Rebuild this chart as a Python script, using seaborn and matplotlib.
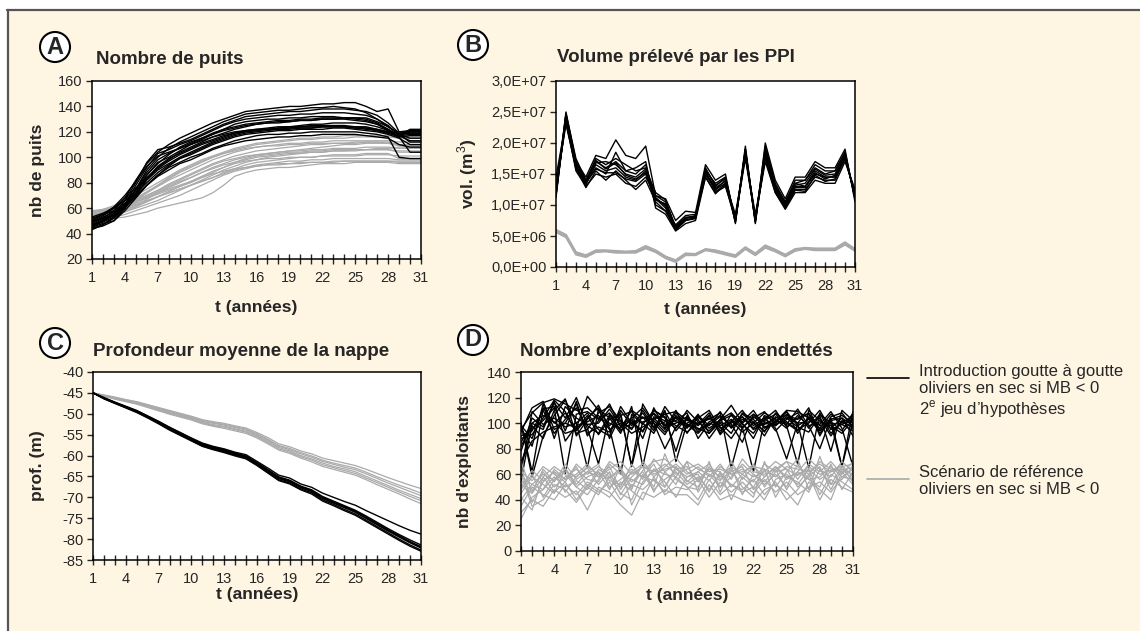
"""Four-panel comparison of simulation runs: reference scenario vs drip irrigation."""

import matplotlib

matplotlib.use("Agg")
import matplotlib.pyplot as plt
import matplotlib.patches as mpatches
from matplotlib.lines import Line2D
from matplotlib.ticker import FuncFormatter
import pandas as pd
import seaborn as sns


W, H = 1140, 631
YEARS = list(range(1, 32))

# ---- panel A : nombre de puits -------------------------------------------
PUITS_GOUTTE = [
    [48, 52, 58, 68, 82, 95, 104, 110, 115, 119, 123, 127, 130, 133, 136, 137, 138, 139, 140, 140, 141, 142, 142, 143, 143, 140, 136, 138, 120, 121, 121],
    [45, 48, 50, 60, 75, 90, 100, 107, 112, 116, 120, 124, 128, 131, 134, 135, 136, 137, 137, 138, 139, 139, 140, 139, 138, 135, 130, 125, 117, 118, 118],
    [47, 50, 55, 63, 78, 92, 103, 106, 110, 113, 117, 121, 125, 128, 130, 131, 132, 133, 133, 134, 134, 135, 135, 135, 134, 133, 130, 124, 118, 119, 119],
    [43, 47, 52, 60, 72, 86, 96, 100, 105, 110, 114, 118, 122, 126, 128, 129, 130, 130, 131, 131, 132, 132, 132, 131, 131, 130, 127, 122, 117, 122, 122],
    [50, 54, 60, 68, 76, 84, 92, 98, 104, 108, 112, 116, 119, 122, 124, 126, 127, 128, 128, 129, 129, 130, 130, 130, 129, 128, 126, 121, 116, 117, 117],
    [46, 49, 53, 60, 70, 82, 90, 95, 100, 104, 108, 112, 115, 118, 120, 121, 122, 123, 124, 124, 125, 125, 125, 125, 124, 124, 122, 120, 118, 112, 112],
    [52, 55, 58, 64, 72, 80, 88, 94, 99, 102, 106, 110, 113, 116, 118, 119, 120, 121, 121, 122, 122, 122, 123, 123, 122, 121, 120, 118, 115, 110, 110],
    [44, 46, 50, 58, 68, 78, 86, 92, 96, 100, 103, 107, 110, 113, 115, 117, 118, 118, 119, 119, 120, 120, 120, 120, 120, 119, 118, 116, 100, 99, 99],
    [49, 53, 57, 62, 70, 78, 85, 90, 95, 98, 102, 106, 109, 111, 113, 114, 115, 116, 116, 117, 117, 118, 118, 118, 118, 117, 116, 115, 110, 108, 108],
    [47, 51, 56, 63, 74, 86, 95, 102, 108, 112, 115, 118, 121, 123, 125, 126, 127, 127, 128, 129, 129, 130, 130, 131, 131, 131, 128, 124, 119, 120, 120],
    [51, 55, 61, 70, 81, 93, 101, 104, 107, 110, 113, 116, 118, 120, 121, 122, 122, 123, 123, 124, 124, 124, 124, 124, 123, 123, 122, 120, 118, 115, 115],
    [45, 50, 54, 61, 71, 83, 93, 99, 103, 107, 111, 114, 117, 119, 121, 122, 123, 124, 124, 125, 126, 126, 127, 127, 127, 126, 124, 121, 118, 121, 121],
    [46, 50, 56, 66, 80, 96, 106, 108, 111, 114, 118, 122, 126, 129, 132, 133, 134, 135, 136, 136, 137, 138, 138, 138, 137, 136, 133, 127, 119, 119, 119],
    [50, 52, 55, 61, 69, 78, 86, 93, 99, 103, 107, 111, 114, 117, 119, 120, 121, 122, 122, 123, 123, 124, 124, 124, 124, 123, 121, 119, 116, 104, 104],
    [44, 47, 53, 62, 75, 88, 98, 103, 107, 111, 115, 119, 122, 124, 126, 127, 128, 129, 129, 130, 130, 131, 131, 131, 130, 129, 126, 122, 117, 120, 120],
    [53, 56, 60, 66, 74, 83, 91, 97, 102, 106, 110, 113, 116, 119, 120, 121, 122, 122, 123, 123, 123, 124, 124, 124, 123, 122, 121, 119, 117, 113, 113],
]
PUITS_REF = [
    [52, 54, 55, 57, 60, 63, 66, 70, 74, 78, 82, 86, 90, 93, 96, 98, 100, 101, 102, 103, 104, 104, 105, 105, 105, 106, 106, 106, 105, 105, 105],
    [56, 58, 60, 63, 67, 72, 77, 82, 86, 90, 94, 98, 101, 104, 106, 108, 109, 110, 111, 111, 112, 112, 113, 113, 113, 113, 113, 113, 112, 112, 112],
    [54, 55, 57, 59, 62, 65, 69, 73, 77, 81, 85, 89, 92, 95, 97, 98, 99, 99, 100, 100, 100, 101, 101, 101, 101, 102, 102, 102, 101, 101, 101],
    [50, 52, 53, 55, 58, 61, 64, 67, 70, 74, 78, 82, 86, 89, 91, 93, 94, 95, 95, 96, 96, 96, 97, 97, 97, 97, 97, 97, 96, 96, 96],
    [58, 59, 61, 64, 68, 73, 78, 83, 88, 92, 96, 100, 103, 106, 108, 110, 111, 112, 113, 114, 114, 115, 115, 115, 116, 116, 116, 116, 115, 115, 115],
    [53, 56, 58, 61, 65, 69, 73, 77, 81, 84, 88, 91, 94, 96, 98, 100, 101, 102, 103, 103, 104, 104, 105, 105, 106, 106, 107, 107, 108, 108, 108],
    [55, 57, 59, 62, 66, 70, 74, 79, 83, 87, 91, 95, 98, 101, 103, 105, 106, 107, 108, 109, 110, 110, 111, 111, 111, 112, 112, 112, 110, 110, 110],
    [52, 53, 55, 58, 62, 67, 72, 75, 78, 81, 84, 87, 89, 91, 92, 93, 94, 94, 95, 95, 96, 96, 96, 97, 97, 97, 97, 97, 97, 97, 97],
    [57, 58, 60, 62, 65, 68, 71, 74, 77, 80, 84, 88, 92, 96, 99, 101, 102, 103, 104, 104, 105, 105, 106, 106, 106, 106, 106, 106, 104, 104, 104],
    [51, 54, 57, 61, 66, 72, 78, 84, 89, 93, 97, 100, 103, 105, 107, 108, 109, 109, 110, 110, 111, 111, 111, 111, 112, 112, 112, 111, 110, 110, 110],
    [48, 50, 52, 53, 55, 57, 60, 62, 64, 66, 68, 72, 78, 85, 88, 90, 91, 92, 92, 93, 94, 95, 95, 95, 96, 96, 96, 96, 95, 95, 95],
    [55, 56, 58, 60, 63, 66, 69, 72, 75, 78, 81, 84, 88, 91, 94, 96, 97, 98, 99, 100, 100, 101, 102, 102, 102, 103, 103, 103, 99, 99, 99],
    [53, 55, 57, 60, 64, 68, 72, 76, 80, 84, 88, 92, 95, 98, 100, 102, 103, 104, 105, 105, 106, 106, 107, 107, 107, 108, 108, 108, 107, 107, 107],
    [57, 59, 62, 66, 70, 75, 80, 85, 90, 94, 98, 101, 104, 107, 109, 111, 112, 113, 114, 115, 115, 116, 116, 117, 117, 117, 117, 117, 116, 116, 116],
    [49, 52, 54, 57, 61, 65, 69, 72, 75, 78, 81, 84, 87, 90, 92, 94, 95, 96, 97, 97, 98, 98, 99, 99, 99, 99, 99, 99, 98, 98, 98],
    [54, 57, 60, 63, 66, 70, 74, 78, 82, 86, 90, 94, 97, 99, 101, 102, 103, 104, 105, 106, 107, 108, 109, 110, 110, 111, 111, 111, 109, 109, 109],
]

# ---- panel B : volume preleve par les PPI (millions de m3) ----------------
VOL_GOUTTE = [
    [11.5, 24.8, 17.5, 14.0, 17.0, 16.0, 17.0, 15.5, 15.0, 16.5, 11.0, 9.5, 6.0, 7.5, 8.0, 15.5, 13.5, 14.5, 7.5, 19.0, 7.5, 19.5, 13.5, 10.5, 13.5, 14.0, 16.0, 15.0, 15.5, 18.5, 11.0],
    [12.0, 24.0, 16.5, 13.5, 16.5, 15.5, 16.0, 14.5, 14.0, 15.5, 10.0, 9.0, 6.0, 7.5, 7.8, 15.0, 12.5, 14.0, 7.2, 18.5, 7.2, 18.0, 12.5, 10.0, 13.0, 13.0, 15.5, 14.5, 14.5, 18.0, 11.5],
    [12.5, 23.5, 15.5, 13.0, 15.0, 14.5, 15.0, 13.5, 13.0, 14.5, 11.5, 10.5, 6.5, 8.0, 8.2, 14.5, 12.0, 13.0, 8.0, 18.0, 8.0, 17.0, 12.0, 9.5, 12.5, 12.5, 14.5, 14.0, 14.0, 17.5, 12.0],
    [11.2, 25.0, 17.0, 14.5, 18.0, 17.5, 20.5, 18.0, 17.5, 19.5, 11.5, 11.0, 7.5, 9.0, 8.8, 16.5, 14.0, 15.0, 7.0, 19.5, 7.0, 20.0, 14.0, 11.0, 14.5, 14.5, 17.0, 16.0, 16.0, 19.0, 10.5],
    [13.0, 23.0, 16.0, 13.5, 16.0, 15.0, 18.5, 15.5, 16.0, 17.0, 9.5, 8.5, 5.8, 7.0, 7.5, 14.5, 11.8, 13.5, 7.8, 17.5, 7.8, 17.5, 12.0, 9.3, 12.0, 12.0, 14.0, 13.5, 13.5, 17.0, 12.5],
    [11.8, 24.5, 17.0, 14.0, 17.5, 16.5, 17.5, 16.5, 15.5, 16.0, 11.0, 10.0, 6.3, 8.0, 8.0, 16.0, 13.0, 14.5, 7.3, 19.0, 7.4, 19.0, 13.0, 10.5, 14.0, 14.0, 16.5, 15.5, 15.5, 18.5, 11.0],
    [14.5, 23.5, 16.0, 12.8, 15.5, 14.0, 15.5, 14.0, 12.5, 14.0, 10.5, 9.0, 6.8, 8.3, 8.5, 15.0, 12.5, 13.5, 8.5, 18.0, 8.5, 17.5, 12.5, 10.0, 13.5, 13.0, 15.0, 14.5, 14.5, 17.5, 11.8],
    [12.2, 24.2, 16.8, 13.8, 16.8, 17.0, 16.5, 15.0, 14.5, 15.8, 12.0, 10.8, 6.2, 7.8, 8.3, 15.8, 13.2, 14.2, 7.6, 18.8, 7.6, 18.5, 13.2, 10.2, 13.2, 13.5, 15.8, 14.8, 15.0, 18.2, 11.2],
    [11.6, 24.0, 16.2, 13.2, 17.2, 15.8, 16.8, 14.8, 14.2, 15.2, 10.8, 10.2, 6.6, 7.9, 8.1, 15.2, 12.8, 13.8, 7.9, 18.2, 7.7, 18.2, 12.8, 9.8, 12.8, 12.8, 15.2, 14.2, 14.8, 17.8, 11.4],
    [12.8, 24.6, 15.8, 13.6, 15.8, 15.2, 15.2, 14.2, 13.8, 15.0, 11.2, 9.8, 6.1, 7.6, 7.9, 15.4, 12.2, 13.2, 7.4, 18.4, 7.3, 18.8, 12.2, 9.6, 12.4, 12.2, 14.8, 13.8, 14.2, 17.6, 11.6],
]
VOL_REF = [
    [5.8, 5.0, 2.2, 1.7, 2.5, 2.6, 2.4, 2.4, 2.4, 3.2, 2.5, 1.5, 0.9, 2.0, 2.0, 2.8, 2.5, 2.1, 1.7, 3.0, 2.0, 3.3, 2.6, 1.8, 2.7, 3.0, 2.8, 2.8, 2.8, 3.8, 2.7],
    [6.0, 5.2, 2.4, 1.9, 2.7, 2.7, 2.6, 2.5, 2.6, 3.4, 2.7, 1.7, 1.1, 2.2, 2.1, 2.9, 2.7, 2.3, 1.9, 3.2, 2.2, 3.5, 2.8, 2.0, 2.9, 3.1, 3.0, 3.0, 3.0, 4.0, 2.9],
    [5.6, 4.8, 2.0, 1.6, 2.4, 2.5, 2.3, 2.3, 2.3, 3.0, 2.4, 1.4, 0.8, 1.9, 1.9, 2.7, 2.4, 2.0, 1.6, 2.9, 1.9, 3.1, 2.5, 1.7, 2.6, 2.9, 2.7, 2.7, 2.7, 3.6, 2.6],
    [5.9, 5.1, 2.3, 1.8, 2.6, 2.6, 2.5, 2.4, 2.5, 3.3, 2.6, 1.6, 1.0, 2.1, 2.1, 2.8, 2.6, 2.2, 1.8, 3.1, 2.1, 3.4, 2.7, 1.9, 2.8, 3.0, 2.9, 2.9, 2.9, 3.9, 2.8],
]

# ---- panel C : profondeur moyenne de la nappe (m) ------------------------
PROF_GOUTTE = [
    [-45.0, -46.2, -47.3, -48.3, -49.3, -50.6, -51.9, -53.3, -54.6, -55.9, -57.2, -58.0, -58.6, -59.4, -60.1, -61.7, -63.4, -65.1, -65.9, -67.3, -68.2, -69.8, -70.9, -72.0, -73.1, -74.5, -76.0, -77.5, -78.9, -80.2, -81.4],
    [-45.0, -46.3, -47.4, -48.4, -49.5, -50.8, -52.1, -53.6, -54.9, -56.2, -57.5, -58.3, -58.9, -59.7, -60.4, -62.0, -63.7, -65.5, -66.3, -67.7, -68.6, -70.3, -71.4, -72.5, -73.6, -75.1, -76.6, -78.1, -79.5, -80.9, -82.1],
    [-45.0, -46.4, -47.5, -48.5, -49.6, -50.9, -52.3, -53.8, -55.1, -56.4, -57.7, -58.5, -59.1, -59.9, -60.6, -62.2, -64.0, -65.8, -66.6, -68.0, -68.9, -70.6, -71.7, -72.9, -74.0, -75.5, -77.0, -78.5, -80.0, -81.4, -82.6],
    [-45.0, -46.3, -47.4, -48.4, -49.4, -50.7, -52.0, -53.4, -54.7, -56.0, -57.3, -58.1, -58.7, -59.5, -60.2, -61.8, -63.5, -65.3, -66.1, -67.5, -68.4, -70.0, -71.1, -72.2, -73.3, -74.8, -76.3, -77.8, -79.2, -80.6, -81.8],
    [-45.0, -46.4, -47.5, -48.6, -49.7, -51.0, -52.4, -53.9, -55.2, -56.5, -57.8, -58.6, -59.3, -60.1, -60.8, -62.4, -64.2, -66.0, -66.8, -68.2, -69.2, -70.9, -72.0, -73.2, -74.3, -75.8, -77.3, -78.8, -80.3, -81.7, -82.9],
    [-45.0, -46.2, -47.3, -48.3, -49.4, -50.6, -51.9, -53.4, -54.7, -56.0, -57.3, -58.1, -58.8, -59.6, -60.3, -61.9, -63.6, -65.4, -66.2, -67.6, -68.5, -70.1, -71.2, -72.3, -73.4, -74.9, -76.4, -77.9, -79.3, -80.7, -82.0],
    [-45.0, -46.1, -47.2, -48.2, -49.2, -50.5, -51.8, -53.2, -54.5, -55.8, -57.0, -57.8, -58.4, -59.2, -59.8, -61.4, -63.0, -64.7, -65.4, -66.8, -67.6, -69.0, -70.0, -71.0, -71.9, -73.2, -74.4, -75.6, -76.8, -77.9, -78.8],
]
PROF_REF = [
    [-45.0, -45.5, -46.0, -46.6, -47.1, -47.8, -48.5, -49.2, -49.9, -50.6, -51.4, -51.9, -52.3, -52.9, -53.4, -54.5, -55.7, -57.2, -57.9, -58.9, -59.6, -60.6, -61.2, -61.8, -62.4, -63.3, -64.3, -65.3, -66.2, -67.1, -67.9],
    [-45.0, -45.6, -46.2, -46.8, -47.3, -48.0, -48.8, -49.5, -50.2, -50.9, -51.8, -52.3, -52.7, -53.3, -53.9, -55.0, -56.3, -57.8, -58.6, -59.6, -60.4, -61.4, -62.1, -62.8, -63.4, -64.4, -65.5, -66.6, -67.6, -68.6, -69.6],
    [-45.0, -45.7, -46.4, -47.0, -47.6, -48.3, -49.1, -49.9, -50.6, -51.3, -52.2, -52.8, -53.2, -53.8, -54.4, -55.5, -56.9, -58.4, -59.2, -60.3, -61.1, -62.2, -62.9, -63.6, -64.3, -65.4, -66.5, -67.6, -68.7, -69.8, -70.8],
    [-45.0, -45.6, -46.1, -46.7, -47.2, -47.9, -48.7, -49.4, -50.0, -50.7, -51.6, -52.1, -52.5, -53.1, -53.7, -54.8, -56.1, -57.6, -58.3, -59.3, -60.1, -61.1, -61.8, -62.4, -63.0, -64.0, -65.1, -66.1, -67.1, -68.0, -69.0],
    [-45.0, -45.7, -46.3, -46.9, -47.4, -48.2, -49.0, -49.7, -50.4, -51.1, -52.0, -52.6, -53.0, -53.6, -54.2, -55.3, -56.6, -58.1, -58.9, -60.0, -60.8, -61.8, -62.6, -63.2, -63.9, -65.0, -66.1, -67.2, -68.3, -69.3, -70.3],
    [-45.0, -45.8, -46.5, -47.1, -47.7, -48.5, -49.3, -50.1, -50.8, -51.5, -52.4, -53.0, -53.5, -54.1, -54.7, -55.8, -57.2, -58.7, -59.5, -60.6, -61.5, -62.6, -63.3, -64.0, -64.7, -65.8, -67.0, -68.1, -69.2, -70.4, -71.5],
]

# ---- panel D : nombre d'exploitants non endettes -------------------------
EXPL_GOUTTE = [
    [95, 108, 116, 119, 115, 110, 112, 104, 100, 96, 110, 104, 103, 107, 109, 102, 100, 104, 98, 103, 96, 105, 99, 104, 106, 103, 108, 95, 102, 104, 98],
    [88, 91, 104, 118, 109, 92, 95, 108, 113, 102, 95, 110, 97, 101, 104, 96, 107, 92, 103, 114, 100, 88, 106, 101, 110, 109, 104, 96, 107, 100, 106],
    [70, 86, 93, 97, 100, 96, 121, 110, 98, 108, 66, 101, 104, 95, 108, 99, 92, 101, 106, 97, 103, 100, 94, 102, 99, 111, 98, 101, 98, 92, 103],
    [100, 62, 111, 113, 94, 117, 90, 102, 108, 94, 104, 112, 100, 80, 97, 103, 99, 108, 91, 101, 110, 98, 104, 96, 72, 100, 112, 90, 105, 108, 97],
    [82, 98, 88, 110, 119, 90, 103, 114, 96, 60, 107, 99, 110, 105, 78, 106, 95, 99, 105, 99, 85, 107, 101, 99, 104, 97, 93, 106, 78, 110, 102],
    [90, 94, 110, 92, 103, 112, 96, 68, 107, 101, 96, 105, 94, 113, 101, 98, 103, 88, 100, 92, 108, 103, 93, 108, 101, 95, 100, 110, 95, 99, 94],
    [62, 109, 99, 104, 97, 100, 108, 95, 90, 113, 100, 94, 108, 99, 102, 108, 88, 100, 97, 88, 101, 110, 97, 100, 109, 92, 105, 98, 101, 94, 108],
    [96, 82, 115, 88, 113, 104, 99, 100, 111, 98, 104, 88, 112, 96, 110, 92, 105, 96, 102, 106, 97, 62, 102, 107, 98, 68, 110, 102, 96, 104, 90],
    [85, 100, 106, 101, 92, 95, 106, 91, 103, 106, 109, 100, 92, 109, 94, 104, 98, 106, 94, 102, 93, 100, 108, 103, 96, 106, 98, 80, 104, 66, 101],
    [78, 104, 97, 117, 86, 98, 101, 106, 95, 100, 92, 97, 102, 93, 106, 97, 106, 98, 109, 96, 105, 95, 100, 98, 107, 100, 101, 104, 90, 102, 96],
    [100, 58, 90, 106, 118, 100, 65, 111, 104, 92, 113, 66, 105, 102, 96, 110, 101, 94, 103, 108, 99, 92, 105, 94, 103, 108, 96, 107, 100, 66, 109],
    [93, 112, 117, 95, 100, 115, 92, 97, 93, 110, 98, 108, 96, 110, 70, 100, 104, 110, 96, 100, 105, 96, 103, 110, 97, 104, 107, 92, 103, 106, 100],
    [68, 96, 102, 112, 60, 107, 109, 103, 115, 97, 102, 93, 110, 104, 98, 93, 100, 103, 108, 65, 97, 104, 109, 98, 105, 100, 65, 108, 92, 101, 104],
    [98, 88, 112, 100, 108, 94, 104, 112, 88, 106, 67, 115, 100, 91, 105, 99, 96, 92, 101, 97, 107, 101, 90, 105, 100, 94, 104, 99, 109, 96, 66],
    [55, 100, 95, 116, 104, 120, 98, 92, 106, 94, 100, 104, 107, 98, 100, 105, 93, 106, 92, 107, 100, 107, 96, 101, 109, 98, 103, 94, 100, 99, 103],
]
EXPL_REF = [
    [40, 52, 60, 55, 62, 58, 66, 60, 57, 65, 50, 63, 70, 72, 64, 58, 62, 55, 66, 60, 64, 58, 62, 70, 64, 59, 66, 60, 63, 67, 58],
    [25, 42, 48, 58, 50, 55, 48, 62, 55, 52, 62, 68, 58, 66, 73, 62, 56, 64, 58, 66, 60, 54, 68, 62, 70, 66, 60, 70, 64, 62, 66],
    [55, 47, 62, 50, 58, 64, 56, 54, 68, 60, 56, 52, 64, 60, 58, 70, 64, 60, 55, 70, 56, 66, 58, 66, 56, 62, 72, 64, 58, 70, 62],
    [60, 35, 40, 52, 48, 38, 50, 44, 58, 45, 40, 60, 48, 56, 62, 52, 58, 48, 60, 52, 46, 50, 40, 56, 60, 52, 64, 44, 60, 54, 48],
    [45, 58, 52, 45, 65, 52, 62, 68, 50, 56, 64, 58, 55, 50, 66, 55, 50, 66, 50, 58, 68, 60, 52, 60, 50, 68, 56, 58, 66, 58, 64],
    [30, 40, 35, 48, 42, 47, 32, 50, 46, 36, 28, 46, 42, 48, 44, 44, 36, 52, 40, 44, 40, 38, 48, 52, 46, 36, 54, 48, 40, 62, 52],
    [50, 63, 55, 62, 56, 60, 68, 58, 64, 70, 60, 66, 62, 68, 60, 64, 68, 62, 64, 60, 62, 66, 64, 58, 66, 64, 62, 68, 62, 64, 60],
    [35, 50, 44, 40, 52, 44, 54, 48, 42, 54, 47, 40, 58, 44, 50, 48, 56, 42, 54, 46, 54, 45, 56, 46, 54, 44, 50, 54, 46, 58, 56],
    [62, 55, 66, 60, 54, 68, 60, 66, 60, 50, 68, 56, 72, 62, 68, 60, 66, 58, 68, 56, 72, 62, 60, 64, 70, 56, 68, 62, 70, 60, 70],
    [52, 45, 58, 66, 60, 50, 44, 56, 70, 64, 54, 62, 50, 76, 56, 50, 48, 70, 46, 64, 50, 42, 70, 50, 62, 72, 48, 74, 52, 66, 54],
    [65, 38, 54, 62, 46, 58, 65, 52, 62, 44, 58, 66, 46, 62, 52, 70, 46, 60, 50, 66, 44, 60, 54, 64, 48, 62, 56, 50, 68, 48, 62],
    [48, 60, 42, 56, 64, 50, 58, 62, 48, 66, 36, 54, 64, 54, 42, 58, 60, 46, 62, 40, 58, 50, 64, 42, 58, 54, 46, 64, 52, 56, 66],
    [42, 32, 58, 46, 54, 40, 52, 46, 54, 40, 52, 48, 56, 46, 58, 50, 40, 56, 44, 52, 48, 56, 44, 54, 40, 48, 60, 40, 56, 50, 46],
    [58, 52, 48, 64, 56, 66, 50, 64, 58, 62, 48, 70, 60, 64, 66, 54, 62, 68, 56, 62, 66, 48, 58, 66, 58, 60, 64, 56, 62, 66, 68],
    [70, 46, 64, 54, 68, 56, 62, 58, 66, 48, 62, 58, 68, 50, 64, 66, 54, 64, 62, 50, 60, 68, 50, 62, 64, 50, 58, 66, 48, 64, 56],
]

CREAM = "#fef5e3"
GREY = "#aaaaaa"
FONTS = ["Liberation Sans", "DejaVu Sans"]


def setup_style() -> None:
    sns.set_style("ticks")
    plt.rcParams["font.family"] = FONTS
    plt.rcParams["mathtext.fontset"] = "custom"
    plt.rcParams["mathtext.rm"] = "Liberation Sans"
    plt.rcParams["axes.unicode_minus"] = False
    plt.rcParams["axes.linewidth"] = 1.1
    plt.rcParams["axes.edgecolor"] = "black"


def long_frame(runs, scale=1.0) -> pd.DataFrame:
    rows = []
    for i, run in enumerate(runs):
        for t, v in zip(YEARS, run):
            rows.append({"t": t, "value": v * scale, "run": i})
    return pd.DataFrame(rows)


def rect(left, right, top, bottom):
    return [left / W, 1 - bottom / H, (right - left) / W, (bottom - top) / H]


def draw_runs(ax, runs, color, lw, scale=1.0):
    sns.lineplot(
        data=long_frame(runs, scale), x="t", y="value", units="run",
        estimator=None, color=color, linewidth=lw, ax=ax, legend=False,
    )


def style_axes(ax, ylim, yticks, ylabel, ylab_x, xlab_y):
    ax.set_facecolor("white")
    ax.set_xlim(1, 31)
    ax.set_ylim(*ylim)
    ax.set_xticks(YEARS)
    ax.set_xticklabels([str(t) if (t - 1) % 3 == 0 else "" for t in YEARS])
    ax.set_yticks(yticks)
    ax.tick_params(axis="x", direction="inout", length=7, width=1, pad=5, labelsize=10.5)
    ax.tick_params(axis="y", direction="out", length=4, width=1, pad=3, labelsize=10.5)
    for sp in ax.spines.values():
        sp.set_visible(True)
        sp.set_color("black")
    ax.set_xlabel("t (années)", fontsize=12.5, fontweight="bold")
    ax.set_ylabel(ylabel, fontsize=12.5, fontweight="bold")
    ax.xaxis.set_label_coords(0.5, xlab_y)
    ax.xaxis.label.set_va("center")
    ax.yaxis.set_label_coords(ylab_x, 0.5)
    ax.yaxis.label.set_va("center")


def panel_header(fig, letter, cx, cy, title, tx, ty):
    fig.add_artist(mpatches.Ellipse((cx / W, 1 - cy / H), 30 / W, 30 / H,
                                    transform=fig.transFigure, facecolor="white",
                                    edgecolor="black", linewidth=1.5, zorder=2))
    fig.text(cx / W, 1 - cy / H, letter, ha="center", va="center",
             fontsize=17, fontweight="bold", zorder=3)
    fig.text(tx / W, 1 - ty / H, title, ha="left", va="center",
             fontsize=13.5, fontweight="bold")


def main() -> None:
    setup_style()
    fig = plt.figure(figsize=(W / 100, H / 100), dpi=100)
    fig.patch.set_facecolor("white")

    # cream frame with dark top and left border
    fig.add_artist(mpatches.Rectangle((8 / W, 0), 1, 1 - 10 / H, transform=fig.transFigure,
                                      facecolor=CREAM, edgecolor="none", zorder=-2))
    fig.add_artist(Line2D([7 / W, 1], [1 - 10 / H, 1 - 10 / H], transform=fig.transFigure,
                          color="#555555", linewidth=1.6, zorder=-1))
    fig.add_artist(Line2D([8 / W, 8 / W], [0, 1 - 10 / H], transform=fig.transFigure,
                          color="#555555", linewidth=1.6, zorder=-1))

    # A
    ax_a = fig.add_axes(rect(92, 421, 81, 259))
    draw_runs(ax_a, PUITS_REF, GREY, 0.9)
    draw_runs(ax_a, PUITS_GOUTTE, "black", 1.0)
    style_axes(ax_a, (20, 160), range(20, 161, 20), "nb de puits", -0.167, -0.27)
    panel_header(fig, "A", 55, 47, "Nombre de puits", 96, 59)

    # B
    ax_b = fig.add_axes(rect(556, 855, 81, 267))
    draw_runs(ax_b, VOL_REF, GREY, 1.4, scale=1e6)
    draw_runs(ax_b, VOL_GOUTTE, "black", 1.0, scale=1e6)
    style_axes(ax_b, (0, 3e7), [i * 5e6 for i in range(7)], "vol. (m$^3$)", -0.298, -0.231)
    ax_b.yaxis.set_major_formatter(FuncFormatter(lambda v, _: f"{v:.1E}".replace(".", ",")))
    panel_header(fig, "B", 473, 45, "Volume prélevé par les PPI", 557, 58)

    # C
    ax_c = fig.add_axes(rect(93, 421, 372, 560))
    draw_runs(ax_c, PROF_REF, GREY, 0.9)
    draw_runs(ax_c, PROF_GOUTTE, "black", 1.0)
    style_axes(ax_c, (-85, -40), range(-85, -39, 5), "prof. (m)", -0.168, -0.186)
    panel_header(fig, "C", 55, 343, "Profondeur moyenne de la nappe", 93, 352)

    # D
    ax_d = fig.add_axes(rect(521, 853, 372, 551))
    draw_runs(ax_d, EXPL_GOUTTE, "black", 1.0)
    draw_runs(ax_d, EXPL_REF, GREY, 0.9)
    style_axes(ax_d, (0, 140), range(0, 141, 20), "nb d'exploitants", -0.169, -0.246)
    panel_header(fig, "D", 473, 340, "Nombre d’exploitants non endettés", 520, 352)

    # legend, drawn by hand so the line sits next to the first text line
    fig.add_artist(Line2D([867 / W, 909 / W], [1 - 378 / H] * 2, transform=fig.transFigure,
                          color="black", linewidth=1.2))
    fig.text(919 / W, 1 - 364 / H,
             "Introduction goutte à goutte\noliviers en sec si MB < 0\n2$^{\\rm e}$ jeu d’hypothèses",
             ha="left", va="top", fontsize=12, linespacing=1.15)
    fig.add_artist(Line2D([867 / W, 909 / W], [1 - 479 / H] * 2, transform=fig.transFigure,
                          color=GREY, linewidth=1.2))
    fig.text(919 / W, 1 - 465 / H, "Scénario de référence\noliviers en sec si MB < 0",
             ha="left", va="top", fontsize=12, linespacing=1.15)

    fig.savefig("out.png", dpi=100, facecolor="white")
    plt.close(fig)


if __name__ == "__main__":
    main()
